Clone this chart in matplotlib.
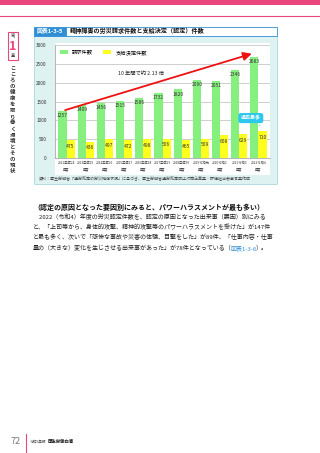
import matplotlib
matplotlib.use("Agg")
import matplotlib.pyplot as plt
from matplotlib.patches import Rectangle
import numpy as np

plt.rcParams['font.family'] = ['Noto Sans CJK JP', 'DejaVu Sans']

years = ["2012平成24", "2013平成25", "2014平成26", "2015平成27", "2016平成28",
         "2017平成29", "2018平成30", "2019令和元", "2020令和2", "2021令和3", "2022令和4"]
claims = [1257, 1409, 1456, 1515, 1586, 1732, 1820, 2060, 2051, 2346, 2683]
approved = [475, 436, 497, 472, 498, 506, 465, 509, 608, 629, 710]

PINK = "#e8467c"
BLUE = "#2f8fd6"
GREEN = "#86f07e"
YELLOW = "#ffff1e"

fig = plt.figure(figsize=(3.2, 4.53), dpi=100)

# page layer in pixel coordinates
page = fig.add_axes([0, 0, 1, 1])
page.set_xlim(0, 320)
page.set_ylim(453, 0)
page.axis("off")

page.add_patch(Rectangle((0, 0), 320, 5, color=PINK, lw=0))
page.plot([0, 320], [15.5, 15.5], color=PINK, lw=0.8)

# chapter tab
page.add_patch(Rectangle((7.5, 32), 10, 28, facecolor="white", edgecolor=PINK, lw=0.8))
page.text(12.5, 36, "第", fontsize=3, ha="center", va="center", color="#333333")
page.text(12.5, 46, "1", fontsize=9, ha="center", va="center", color=PINK, fontweight="bold")
page.text(12.5, 56, "章", fontsize=3, ha="center", va="center", color="#333333")
side = "こころの健康を取り巻く環境とその現状"
for k, ch in enumerate(side):
    page.text(12.5, 68 + k * 6.1, ch, fontsize=3.9, ha="center", va="center",
              color="#333333", fontweight="bold")

# chart panel
page.add_patch(Rectangle((34, 36), 243, 148, facecolor="#def2f2", edgecolor="#a8dadd", lw=0.6))
page.add_patch(Rectangle((34, 26.5), 32, 9, facecolor=BLUE, edgecolor=BLUE, lw=0.6))
page.add_patch(Rectangle((66, 26.5), 211, 9, facecolor="white", edgecolor=BLUE, lw=0.6))
page.text(50, 31, "図表1-3-5", fontsize=4.2, ha="center", va="center", color="white", fontweight="bold")
page.text(70, 31, "精神障害の労災請求件数と支給決定（認定）件数", fontsize=4.4,
          ha="left", va="center", color="#111111", fontweight="bold")
page.add_patch(Rectangle((55, 43), 215, 132, facecolor="white", edgecolor="none"))
page.text(39, 178.5, "資料：厚生労働省「過労死等の労災補償状況」に基づき、厚生労働省過労死等防止対策企画室・評価担当参事官室作成",
          fontsize=2.9, ha="left", va="center", color="#444444")

# body text
page.text(33, 207, "（認定の原因となった要因別にみると、パワーハラスメントが最も多い）",
          fontsize=5.0, ha="left", va="center", color="#111111", fontweight="bold")
body = ["　2022（令和4）年度の労災認定件数を、認定の原因となった出来事（要因）別にみる",
        "と、「上司等から、身体的攻撃、精神的攻撃等のパワーハラスメントを受けた」が147件",
        "と最も多く、次いで「悲惨な事故や災害の体験、目撃をした」が89件、「仕事内容・仕事"]
for k, line in enumerate(body):
    page.text(33, 217 + k * 10.3, line, fontsize=4.35, ha="left", va="center", color="#222222")

# last line with the blue cross-reference, placed piece by piece
fig.canvas.draw()
r = fig.canvas.get_renderer()
xpos = 33
for part, col in [("量の（大きな）変化を生じさせる出来事があった」が78件となっている（", "#222222"),
                  ("図表1-3-6", BLUE), ("）。", "#222222")]:
    t = page.text(xpos, 248, part, fontsize=4.35, ha="left", va="center", color=col)
    bb = t.get_window_extent(renderer=r)
    xpos += bb.width * 320 / fig.bbox.width - 1.2

# footer
page.text(16, 441, "72", fontsize=6.5, ha="center", va="center", color="#777777")
page.plot([26, 26], [434, 453], color=PINK, lw=0.8)
page.text(30, 441.5, "令和5年版", fontsize=2.6, ha="left", va="center", color="#333333")
page.text(48, 441.5, "厚生労働白書", fontsize=3.2, ha="left", va="center", color="#222222", fontweight="bold")

# chart
ax = fig.add_axes([55 / 320, 1 - 158 / 453, 215 / 320, 113 / 453])
ax.set_facecolor("white")
x = np.arange(len(years))
w = 0.42
ax.bar(x - w / 2, claims, w, color=GREEN, label="請求件数", zorder=2)
ax.bar(x + w / 2, approved, w, color=YELLOW, label="支給決定件数", zorder=2)
for i in range(len(years)):
    ax.annotate(str(claims[i]), (x[i] - w / 2, claims[i]), xytext=(0, -1.5),
                textcoords="offset points", ha="center", va="top", fontsize=3.6, color="#333333", zorder=3)
    ax.annotate(str(approved[i]), (x[i] + w / 2, approved[i]), xytext=(0, -2.5),
                textcoords="offset points", ha="center", va="top", fontsize=3.6, color="#333333", zorder=3)

ax.set_xlim(-0.6, len(years) - 0.4)
ax.set_ylim(0, 3000)
ax.set_yticks(range(0, 3001, 500))
ax.yaxis.grid(True, color="#bbbbbb", lw=0.5, zorder=0)
ax.tick_params(axis="y", labelsize=3.4, length=0, pad=6, labelcolor="#333333")
ax.set_xticks(x)
ax.set_xticklabels([y + "\n年度" for y in years], fontsize=2.3, color="#333333", linespacing=1.7)
ax.tick_params(axis="x", length=0, pad=2)
for s in ["top", "right"]:
    ax.spines[s].set_visible(False)
ax.spines["left"].set_color("#999999")
ax.spines["bottom"].set_color("#999999")
ax.spines["left"].set_linewidth(0.5)
ax.spines["bottom"].set_linewidth(0.5)

ax.annotate("", xy=(x[-1] - w / 2, 2790), xytext=(x[0] - w / 2, 1250),
            arrowprops=dict(arrowstyle="-|>,head_length=0.5,head_width=0.25", color="#ee1111", lw=1.3),
            zorder=4)
ax.text(3.9, 2250, "10 年間で約 2.13 倍", fontsize=3.8, ha="center", va="center", color="#222222")

ax.annotate("過去最多", xy=(x[-1] + w / 2, 820), xytext=(9.6, 1060),
            fontsize=3.6, ha="center", va="center", color="white", fontweight="bold",
            bbox=dict(boxstyle="round,pad=0.5", fc="#2ec8ee", ec="none"),
            arrowprops=dict(arrowstyle="wedge,tail_width=0.4", fc="#2ec8ee", ec="none"),
            zorder=5)

ax.legend(loc="upper left", bbox_to_anchor=(0.0, 1.0), ncol=2, frameon=False,
          fontsize=3.8, handlelength=1.5, handleheight=0.8, columnspacing=2.0)

fig.savefig("out.png", dpi=100)
